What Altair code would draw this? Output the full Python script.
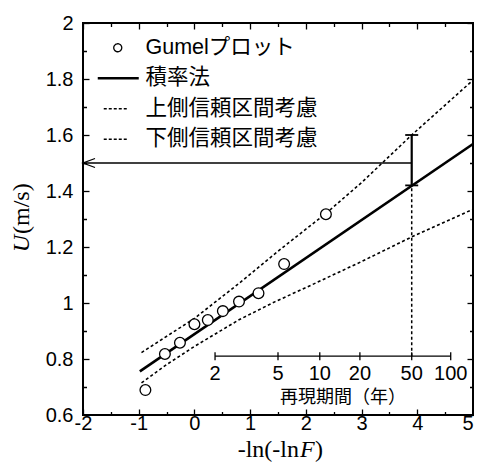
import altair as alt
import pandas as pd

# ---------------- data ----------------
X_DOMAIN = [-2, 5]
Y_DOMAIN = [0.6, 2.0]
X_TICKS = [-2, -1.5, -1, -0.5, 0, 0.5, 1, 1.5, 2, 2.5, 3, 3.5, 4, 4.5, 5]
X_MAJOR = [-2, -1, 0, 1, 2, 3, 4, 5]
Y_TICKS = [0.6, 0.7, 0.8, 0.9, 1.0, 1.1, 1.2, 1.3, 1.4, 1.5, 1.6, 1.7, 1.8, 1.9, 2.0]
Y_MAJOR = [0.6, 0.8, 1.0, 1.2, 1.4, 1.6, 1.8, 2.0]

SERIES = ["Gumelプロット", "積率法", "上側信頼区間考慮", "下側信頼区間考慮"]

# Gumbel plot points
GUMBEL_X = [-0.88, -0.53, -0.26, 0.00, 0.24, 0.51, 0.80, 1.15, 1.61, 2.36]
GUMBEL_U = [0.689, 0.818, 0.858, 0.924, 0.939, 0.971, 1.005, 1.035, 1.139, 1.317]

# moment-method line
MOMENT_X = [-0.98, 5.0]
MOMENT_U = [0.756, 1.568]

# upper / lower confidence lines
UPPER_X = [-0.95, 0.0, 0.8, 1.5, 2.36, 3.0, 3.9, 5.0]
UPPER_U = [0.823, 0.945, 1.07, 1.185, 1.32, 1.43, 1.60, 1.796]
LOWER_X = [-0.95, -0.5, 0.0, 0.8, 1.45, 2.0, 3.0, 3.9, 5.0]
LOWER_U = [0.715, 0.78, 0.845, 0.94, 1.005, 1.055, 1.148, 1.236, 1.335]

# return-period scale
RP_LABELS = ["2", "5", "10", "20", "50", "100"]
RP_X = [0.37, 1.50, 2.25, 2.97, 3.90, 4.60]
RP_AXIS_U = 0.81
RP_TITLE = "再現期間（年）"

# 50-year design value
X_50 = 3.90
U_50 = 1.42
U_50_UP = 1.60
U_DESIGN = 1.50
ARROW_X = [-2.0, 3.90]

# ---------------- helpers ----------------
SANS = "Liberation Sans"
SERIF = "Liberation Serif"
JP = "Liberation Sans, Noto Sans CJK JP"
TICK = 6


def major_test(major):
    return "indexof([" + ",".join(str(v) for v in major) + "], datum.value) >= 0"


def dash_cond(major):
    # major ticks solid (full length), minor ticks only the outer 3.5 px (next to the frame)
    return {"condition": {"test": major_test(major), "value": [TICK, 0]},
            "value": [0, TICK - 3.5, 3.5, 40]}


def xs(field="x", axis=None):
    return alt.X(field, type="quantitative",
                 scale=alt.Scale(domain=X_DOMAIN, nice=False, zero=False), axis=axis)


def ys(field="u", axis=None):
    return alt.Y(field, type="quantitative",
                 scale=alt.Scale(domain=Y_DOMAIN, nice=False, zero=False), axis=axis)


common_axis = dict(title=None, domain=False, grid=False, tickSize=TICK, offset=-TICK,
                   tickColor="black", tickWidth=1.3, labelOverlap=False)

x_axis_main = alt.Axis(orient="bottom", values=X_TICKS,
                       labelExpr=major_test(X_MAJOR) + " ? '' + datum.value : ''",
                       labelFont=SANS, labelFontSize=20, labelColor="black",
                       labelPadding=-2, labelFlush=False,
                       labelAlign={"condition": {"test": "datum.value == 5", "value": "right"},
                                   "value": "center"},
                       tickDash=dash_cond(X_MAJOR), **common_axis)
y_axis_main = alt.Axis(orient="left", values=Y_TICKS,
                       labelExpr=major_test(Y_MAJOR) + " ? '' + datum.value : ''",
                       labelFont=SANS, labelFontSize=20, labelColor="black",
                       labelPadding=10,
                       tickDash=dash_cond(Y_MAJOR), **common_axis)
x_axis_top = alt.Axis(orient="top", values=X_TICKS, labels=False,
                      tickDash=dash_cond(X_MAJOR), **common_axis)
y_axis_right = alt.Axis(orient="right", values=Y_TICKS, labels=False,
                        tickDash=dash_cond(Y_MAJOR), **common_axis)

# ---------------- layers ----------------
pts = pd.DataFrame({"x": GUMBEL_X, "u": GUMBEL_U})
moment = pd.DataFrame({"x": MOMENT_X, "u": MOMENT_U})
bands = pd.concat([
    pd.DataFrame({"x": UPPER_X, "u": UPPER_U, "s": SERIES[2]}),
    pd.DataFrame({"x": LOWER_X, "u": LOWER_U, "s": SERIES[3]}),
])

band_layer = alt.Chart(bands).mark_line(
    color="black", strokeWidth=1.6, strokeDash=[3, 2.5]
).encode(x=xs(), y=ys(), detail="s:N")

moment_layer = alt.Chart(moment).mark_line(color="black", strokeWidth=2.6).encode(
    x=xs(axis=x_axis_main), y=ys(axis=y_axis_main))

vdot = alt.Chart(pd.DataFrame({"x": [X_50], "u": [RP_AXIS_U], "u2": [U_50]})).mark_rule(
    color="black", strokeWidth=1.5, strokeDash=[3, 2.5]
).encode(x=xs(), y=ys(), y2="u2:Q")

ebar = alt.Chart(pd.DataFrame({"x": [X_50], "u": [U_50], "u2": [U_50_UP]})).mark_rule(
    color="black", strokeWidth=2.2
).encode(x=xs(), y=ys(), y2="u2:Q")

ecaps = alt.Chart(pd.DataFrame({"x": [X_50, X_50], "u": [U_50, U_50_UP]})).mark_point(
    shape="M-1,0L1,0", size=169, filled=False, color="black", strokeWidth=1.8, opacity=1
).encode(x=xs(), y=ys())

arrow = alt.Chart(pd.DataFrame({"x": [ARROW_X[0]], "x2": [ARROW_X[1]], "u": [U_DESIGN]})).mark_rule(
    color="black", strokeWidth=1.3
).encode(x=xs(axis=x_axis_top), x2="x2:Q", y=ys(axis=y_axis_right))

arrow_head = alt.Chart(pd.DataFrame({"x": [ARROW_X[0]], "u": [U_DESIGN]})).mark_point(
    shape="M2,-0.75L0,0L2,0.75", size=144, filled=False, color="black", strokeWidth=1.3, opacity=1
).encode(x=xs(), y=ys())

rp_df = pd.DataFrame({"x": RP_X, "u": [RP_AXIS_U] * len(RP_X), "t": RP_LABELS})
rp_line = alt.Chart(pd.DataFrame({"x": [RP_X[0]], "x2": [RP_X[-1]], "u": [RP_AXIS_U]})).mark_rule(
    color="black", strokeWidth=1.3
).encode(x=xs(), x2="x2:Q", y=ys())
rp_ticks = alt.Chart(rp_df).mark_point(
    shape="M0,-1L0,1", size=64, filled=False, color="black", strokeWidth=1.3, opacity=1
).encode(x=xs(), y=ys())
rp_labels = alt.Chart(rp_df).mark_text(
    font=SANS, fontSize=20, color="black", baseline="middle", dy=18
).encode(x=xs(), y=ys(), text="t:N")

one = pd.DataFrame({"a": [0]})
rp_title = alt.Chart(one).mark_text(
    text=RP_TITLE, font="Noto Sans CJK JP", fontSize=18, color="black", baseline="middle"
).encode(x=alt.value(260), y=alt.value(375))

points = alt.Chart(pts).mark_point(
    shape="circle", filled=True, fill="white", stroke="black", strokeWidth=1.3, size=115, opacity=1
).encode(x=xs(), y=ys())

# axis titles (mixed italic)
XT_Y = 434
XT_SIZE = 24
xt1 = alt.Chart(one).mark_text(text="-ln(-ln", font=SERIF, fontSize=XT_SIZE, color="black",
                               align="right", baseline="alphabetic").encode(
    x=alt.value(216), y=alt.value(XT_Y))
xt2 = alt.Chart(one).mark_text(text="F", font=SERIF, fontSize=XT_SIZE, fontStyle="italic", color="black",
                               align="left", baseline="alphabetic").encode(
    x=alt.value(217), y=alt.value(XT_Y))
xt3 = alt.Chart(one).mark_text(text=")", font=SERIF, fontSize=XT_SIZE, color="black",
                               align="left", baseline="alphabetic").encode(
    x=alt.value(232), y=alt.value(XT_Y))
yt1 = alt.Chart(one).mark_text(text="U", font=SERIF, fontSize=24, fontStyle="italic", color="black",
                               align="right", baseline="middle", angle=270).encode(
    x=alt.value(-61), y=alt.value(212))
yt2 = alt.Chart(one).mark_text(text="(m/s)", font=SERIF, fontSize=24, color="black",
                               align="left", baseline="middle", angle=270).encode(
    x=alt.value(-61), y=alt.value(211))

# legend (drawn by Vega-Lite's legend from an empty layer)
CIRCLE_PATH = "M-1.4,0A0.8,0.8,0,1,0,0.2,0A0.8,0.8,0,1,0,-1.4,0"
SOLID_PATH = "M-4.6,0L3.6,0"
DOT_PATH = "M-3.4,0L1.2,0"
leg = alt.Legend(
    title=None, orient="none", legendX=27, legendY=14, padding=0,
    labelFont=JP, labelFontSize=21.5, labelColor="black", labelLimit=400, labelOffset=14,
    symbolSize=100, symbolStrokeColor="black", rowPadding=7.5,
)
legend_layer = alt.Chart(pd.DataFrame({"series": SERIES})).transform_filter("false").mark_point(
    filled=False, color="black", opacity=1
).encode(
    shape=alt.Shape("series:N", scale=alt.Scale(domain=SERIES,
                    range=[CIRCLE_PATH, SOLID_PATH, DOT_PATH, DOT_PATH]), legend=leg),
    strokeDash=alt.StrokeDash("series:N", scale=alt.Scale(domain=SERIES,
                              range=[[1, 0], [1, 0], [3, 2], [3, 2]]), legend=leg),
    strokeWidth=alt.StrokeWidth("series:N", scale=alt.Scale(type="ordinal", domain=SERIES,
                                range=[1.3, 2.5, 1.3, 1.3]), legend=leg),
)

chart = alt.layer(
    band_layer, moment_layer, vdot, ebar, ecaps, arrow, arrow_head,
    rp_line, rp_ticks, rp_labels, rp_title, points,
    xt1, xt2, xt3, yt1, yt2, legend_layer,
).properties(
    width=390, height=392,
    autosize=alt.AutoSizeParams(type="none"),
    padding={"left": 75, "top": 15, "right": 1, "bottom": 47},
).configure_view(stroke="black", strokeWidth=2)

chart.save("out.html", embed_options={"renderer": "svg", "actions": False})
